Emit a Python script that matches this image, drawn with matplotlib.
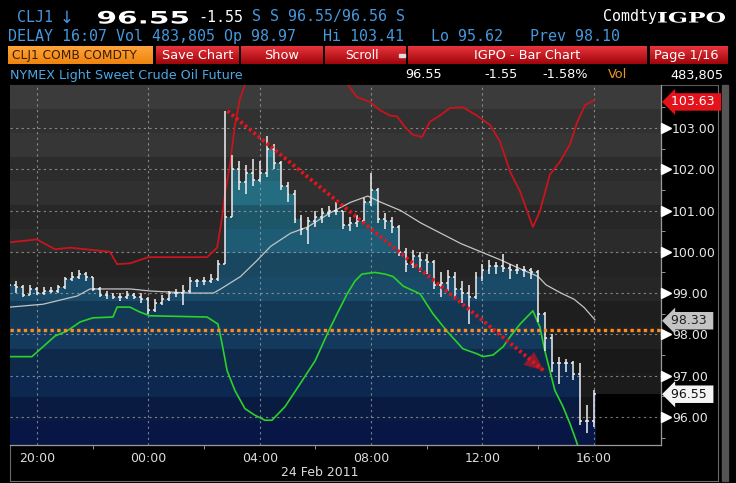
import numpy as np
import matplotlib.pyplot as plt
from matplotlib.colors import to_rgb
from matplotlib.patches import Rectangle, PathPatch
from matplotlib.textpath import TextPath
from matplotlib.font_manager import FontProperties
from matplotlib.transforms import Affine2D

W, H = 736, 483

# 15 minute bars, hours counted from 24 Feb 2011 00:00 (first bar 19:00 the day before)
bar_first = -5.0
bar_step = 0.25
closes = [99.20, 99.15, 98.95, 99.10, 99.00, 99.05, 99.05, 99.15, 99.35, 99.40,
          99.45, 99.40, 99.10, 98.95, 98.95, 98.90, 98.90, 98.95, 98.90, 98.85,
          98.60, 98.75, 98.85, 99.00, 99.00, 99.05, 99.30, 99.30, 99.30, 99.35,
          99.70, 100.85, 102.00, 101.70, 101.90, 101.75, 101.90, 102.50, 102.15, 101.60,
          101.40, 100.80, 100.55, 100.75, 100.85, 100.95, 101.00, 101.00, 100.65, 100.70,
          100.75, 101.20, 101.50, 100.80, 100.75, 100.60, 100.00, 99.70, 99.90, 99.80,
          99.75, 99.20, 99.25, 99.40, 99.10, 99.00, 98.90, 99.40, 99.55, 99.65,
          99.65, 99.60, 99.55, 99.55, 99.55, 99.50, 98.50, 97.90, 97.30, 97.30,
          97.30, 97.05, 95.90, 95.90, 96.55]
highs = [99.35, 99.30, 99.20, 99.20, 99.15, 99.15, 99.15, 99.20, 99.40, 99.50,
         99.55, 99.50, 99.40, 99.15, 99.05, 99.00, 99.00, 99.05, 99.00, 99.00,
         98.90, 98.85, 98.95, 99.05, 99.10, 99.20, 99.40, 99.35, 99.40, 99.45,
         99.80, 103.41, 102.35, 102.20, 102.10, 102.25, 102.20, 102.80, 102.60, 102.20,
         101.70, 101.50, 100.90, 100.85, 101.00, 101.05, 101.10, 101.20, 101.00, 100.85,
         100.90, 101.30, 101.90, 101.55, 100.95, 100.85, 100.65, 100.10, 100.05, 100.00,
         99.95, 99.80, 99.50, 99.55, 99.50, 99.30, 99.20, 99.50, 99.70, 99.80,
         99.75, 99.95, 99.70, 99.70, 99.65, 99.60, 99.55, 98.55, 98.00, 97.45,
         97.40, 97.35, 97.30, 96.30, 96.65]
lows = [99.10, 99.00, 98.90, 98.95, 98.95, 98.95, 99.00, 99.00, 99.10, 99.30,
        99.35, 99.30, 99.05, 98.90, 98.85, 98.85, 98.80, 98.85, 98.85, 98.75,
        98.50, 98.55, 98.70, 98.80, 98.90, 98.70, 99.00, 99.15, 99.20, 99.25,
        99.30, 99.70, 100.85, 101.50, 101.40, 101.60, 101.70, 101.80, 102.00, 101.50,
        101.20, 100.70, 100.40, 100.20, 100.60, 100.70, 100.85, 100.90, 100.55, 100.50,
        100.60, 100.70, 101.10, 100.70, 100.55, 100.45, 99.90, 99.50, 99.60, 99.50,
        99.45, 99.10, 98.90, 99.05, 98.90, 98.75, 98.25, 98.85, 99.30, 99.45,
        99.45, 99.50, 99.35, 99.45, 99.40, 99.35, 98.30, 97.60, 97.10, 96.80,
        97.10, 96.90, 95.80, 95.62, 95.75]

# moving average (grey)
ma_t = [-4.97, -3.78, -2.55, -2.09, -0.65, 0.07, 1.51, 2.34, 2.6, 3.31, 3.92, 4.39,
        5.11, 5.72, 6.55, 7.27, 7.88, 8.35, 9.06, 9.78, 10.5, 11.22, 11.94, 12.66,
        13.38, 14.0, 14.28, 14.82, 15.29, 15.65, 16.04]
ma_v = [98.66, 98.73, 98.93, 99.1, 99.1, 99.05, 99.0, 99.0, 99.1, 99.4, 99.8, 100.13,
        100.45, 100.6, 100.95, 101.2, 101.35, 101.2, 101.0, 100.7, 100.45, 100.2, 100.0, 99.8,
        99.58, 99.4, 99.2, 99.0, 98.85, 98.65, 98.35]

# upper band (red)
ub_t = [-4.97, -4.0, -3.35, -2.81, -1.38, -1.12, -0.66, 0.0, 2.11, 2.47, 2.65, 2.75,
        2.93, 3.11, 3.29, 3.47, 4.0, 5.0, 6.0, 6.8, 7.17, 7.49, 7.96, 8.32, 8.68, 8.93,
        9.22, 9.51, 9.83, 10.11, 10.47, 10.83, 11.3, 11.8, 12.27, 12.63, 12.99, 13.35,
        13.81, 14.06, 14.42, 14.78, 15.14, 15.39, 15.68, 16.0]
ub_v = [100.23, 100.3, 100.06, 100.1, 100.0, 99.7, 99.72, 99.87, 99.87, 100.1, 100.83, 101.4,
        102.1, 103.07, 103.7, 104.04, 104.6, 105.0, 104.9, 104.4, 104.04, 103.75, 103.63, 103.43,
        103.3, 103.28, 103.02, 102.83, 102.78, 103.15, 103.3, 103.48, 103.5, 103.3, 103.07,
        102.67, 101.94, 101.46, 100.6, 100.98, 101.87, 102.18, 102.6, 103.12, 103.55, 103.67]

# lower band (green)
lb_t = [-4.97, -4.18, -3.78, -3.35, -2.92, -2.45, -1.99, -1.27, -1.12, -0.66, -0.3, 0.06,
        2.11, 2.5, 2.65, 2.83, 3.11, 3.47, 3.83, 4.19, 4.44, 4.91, 5.45, 5.99, 6.42, 6.78,
        7.14, 7.42, 7.67, 8.14, 8.5, 8.79, 9.15, 9.76, 10.22, 10.72, 11.3, 11.8, 12.02,
        12.38, 12.74, 12.99, 13.35, 13.81, 14.06, 14.24, 14.42, 14.6, 14.89, 15.14, 15.36, 15.47]
lb_v = [97.46, 97.46, 97.7, 97.96, 98.08, 98.3, 98.4, 98.42, 98.66, 98.66, 98.54, 98.45,
        98.42, 98.25, 97.77, 97.12, 96.64, 96.2, 96.04, 95.92, 95.92, 96.25, 96.8, 97.36, 98.0, 98.5,
        98.98, 99.29, 99.46, 99.5, 99.46, 99.4, 99.17, 98.98, 98.5, 98.08, 97.65, 97.53, 97.46,
        97.5, 97.7, 97.94, 98.25, 98.57, 98.18, 97.6, 97.12, 96.64, 96.25, 95.84, 95.43, 95.2]

prev_close = 98.10
trend_start = (2.84, 103.41)
trend_end = (14.2, 97.12)

x_ticks = [-4, 0, 4, 8, 12, 16]
x_labels = ['20:00', '00:00', '04:00', '08:00', '12:00', '16:00']
x_minor = [-2, 2, 6, 10, 14]
y_ticks = [96, 97, 98, 99, 100, 101, 102, 103]
last_tags = [(103.63, '103.63', '#e3121b', 'white'),
             (98.33, '98.33', '#c4c4c4', '#202020'),
             (96.55, '96.55', '#f4f4f4', '#101010')]

BLUE = '#4598de'

fig = plt.figure(figsize=(W / 100, H / 100), dpi=100, facecolor='black')

# --- header / frame drawn in pixel coordinates ---
hdr = fig.add_axes([0, 0, 1, 1], zorder=0)
hdr.axis('off')


def vgrad(x0, x1, y0, y1, top, bottom):
    g = np.linspace(0, 1, 24)[:, None, None]
    c = np.array(to_rgb(top)) * (1 - g) + np.array(to_rgb(bottom)) * g
    hdr.imshow(c, extent=(x0, x1, y1, y0), aspect='auto', interpolation='bilinear')


def wide_text(s, x0, x1, ybase, cap, family, color):
    # stretch a bold string to fill a pixel box (Bloomberg's wide ticker font)
    tp = TextPath((0, 0), s, size=10, prop=FontProperties(family=family, weight='bold'))
    ext = tp.get_extents()
    sx = (x1 - x0) / ext.width
    sy = cap / 7.3
    tr = Affine2D().translate(-ext.x0, 0).scale(sx, -sy).translate(x0, ybase)
    hdr.add_patch(PathPatch(tr.transform_path(tp), fc=color, ec='none'))


mono = dict(family='DejaVu Sans Mono', fontsize=10.8, va='center')
hdr.text(17, 17, 'CLJ1', color=BLUE, **mono)
hdr.text(60, 17.5, '\u2193', color=BLUE, family='DejaVu Sans', fontsize=12, va='center')
wide_text('96.55', 98, 188, 23.5, 12.5, 'DejaVu Sans', 'white')
hdr.text(198, 17, '-1.55', color='white', **mono)
hdr.text(252, 17, 'S S 96.55/96.56 S', color=BLUE, **mono)
hdr.text(603, 17, 'Comdty', color='white', **mono)
wide_text('IGPO', 658, 725, 22.5, 10.5, 'DejaVu Serif', 'white')
hdr.text(8, 37, 'DELAY 16:07 Vol 483,805 Op 98.97   Hi 103.41   Lo 95.62   Prev 98.10',
         color=BLUE, **mono)

# button row
vgrad(8, 153, 46, 64, '#ffa43a', '#ef8410')
hdr.text(12, 55.5, 'CLJ1 COMB COMDTY', color='#3a1e00', fontsize=8.8, va='center')
buttons = [(156, 239, 'Save Chart'), (241, 323, 'Show'), (325, 406, 'Scroll'),
           (408, 647, 'IGPO - Bar Chart'), (650, 728, 'Page 1/16')]
for bx0, bx1, lab in buttons:
    vgrad(bx0, bx1, 46, 64, '#e8343c', '#a0060c')
    if lab == 'Page 1/16':
        hdr.text(bx0 + 4, 55.5, lab, color='white', fontsize=9.3, va='center')
    elif lab == 'Scroll':
        hdr.text(bx0 + 20, 55.5, lab, color='white', fontsize=8.8, va='center')
    else:
        hdr.text((bx0 + bx1) / 2, 55.5, lab, color='white', fontsize=9.3,
                 ha='center', va='center')
hdr.add_patch(Rectangle((399, 53.5), 6, 3, color='#dddddd'))

hdr.text(10, 75, 'NYMEX Light Sweet Crude Oil Future', color='#48a8e8', fontsize=9.2, va='center')
for xr, s in [(442, '96.55'), (518, '-1.55'), (588, '-1.58%'), (723, '483,805')]:
    hdr.text(xr, 75, s, color='white', fontsize=9.3, ha='right', va='center')
hdr.text(608, 75, 'Vol', color='#e8962a', fontsize=9.3, va='center')

# frame and scroll bar
hdr.plot([10, 718], [84.5, 84.5], color='#5a5a5a', lw=0.8)
hdr.plot([718, 718], [85, 481], color='#6a6a6a', lw=0.8)
hdr.plot([10, 718], [481, 481], color='#6a6a6a', lw=0.8)
hdr.plot([10, 10], [445, 481], color='#6a6a6a', lw=0.8)
hdr.add_patch(Rectangle((722, 85), 6, 396, color='#555555'))
hdr.set_xlim(0, W)
hdr.set_ylim(H, 0)

# --- chart ---
ax = fig.add_axes([10 / W, (H - 445) / H, 651 / W, 360 / H], zorder=1)
xa, xb = -4.966, 18.41
ya, yb = 95.32, 104.04
ax.set_facecolor('black')

nb = 15
k = np.arange(nb) / (nb - 1)
alt = np.where(np.arange(nb) % 2 == 0, 1.0, 0.86)
gray = (0.235 * (1 - k) + 0.085 * k) * alt
bg = np.repeat(gray[:, None], 3, axis=1)[:, None, :]
ax.imshow(bg, extent=(xa, xb, ya, yb), aspect='auto', origin='upper',
          interpolation='nearest', zorder=0)

top = np.array([0.19, 0.56, 0.60])
bot = np.array([0.03, 0.09, 0.27])
blue = (top * (1 - k[:, None]) + bot * k[:, None]) * alt[:, None]
im = ax.imshow(blue[:, None, :], extent=(xa, xb, ya, yb), aspect='auto', origin='upper',
               interpolation='nearest', zorder=1)

t_bars = bar_first + bar_step * np.arange(len(closes))
t_edge = np.append(t_bars, t_bars[-1] + 0.07)
c_edge = np.append(closes, closes[-1])
poly = ax.fill_between(t_edge, c_edge, ya, step='post', facecolor='none', edgecolor='none')
im.set_clip_path(poly.get_paths()[0], ax.transData)
ax.fill_between([t_edge[-1], xb], ya, closes[-1], color='black', lw=0, zorder=1.2)

ax.plot(ub_t, ub_v, color='#c8141c', lw=1.3, zorder=3)
ax.plot(lb_t, lb_v, color='#2ad22a', lw=1.2, zorder=3)
ax.plot(ma_t, ma_v, color='#c4c4c4', lw=0.9, zorder=3)

opens = [closes[0]] + closes[:-1]
bar_col = '#f0f0f0'
ax.vlines(t_bars, lows, highs, color=bar_col, lw=1.1, zorder=4)
ax.hlines(opens, t_bars - 0.07, t_bars, color=bar_col, lw=1.1, zorder=4)
ax.hlines(closes, t_bars, t_bars + 0.07, color=bar_col, lw=1.1, zorder=4)

ax.axhline(prev_close, color='#ff8c1e', lw=2.4, linestyle=(0, (1, 1)), zorder=5)

# dotted trend line with a dotted-looking head
ax.plot([trend_start[0], trend_end[0]], [trend_start[1], trend_end[1]], color='#e4141c',
        lw=2.8, linestyle=(0, (0.7, 0.75)), solid_capstyle='butt', zorder=6)
ax.annotate('', xy=trend_end, xytext=trend_start, zorder=6,
            arrowprops=dict(arrowstyle='-|>,head_length=1.4,head_width=0.6',
                            fc='#e4141c', ec='none', alpha=0.6, lw=0,
                            shrinkA=0, shrinkB=0))

ax.set_xlim(xa, xb)
ax.set_ylim(ya, yb)
ax.set_axisbelow('line')
ax.grid(True, color='#b8b8b8', linestyle=(0, (2, 3)), lw=0.8, alpha=0.65)

ax.set_xticks(x_ticks)
ax.set_xticklabels(x_labels)
ax.set_xticks(x_minor, minor=True)
ax.yaxis.tick_right()
ax.set_yticks(y_ticks)
ax.set_yticklabels(['%.2f' % v for v in y_ticks])
ax.set_yticks(np.arange(95.5, 104, 1.0), minor=True)
ax.tick_params(axis='x', which='major', length=0, pad=5, labelsize=9, labelcolor='#dcdcdc')
ax.tick_params(axis='x', which='minor', length=3, color='#aaaaaa', direction='out')
ax.tick_params(axis='y', which='major', length=0, pad=8, labelsize=9, labelcolor='#e6e6e6')
ax.tick_params(axis='y', which='minor', length=3, color='#aaaaaa', direction='out')
for side in ['top', 'left']:
    ax.spines[side].set_visible(False)
for side in ['bottom', 'right']:
    ax.spines[side].set_color('#9a9a9a')
    ax.spines[side].set_linewidth(0.9)

ytr = ax.get_yaxis_transform()
ax.plot([1.0077] * len(y_ticks), y_ticks, linestyle='none', marker='>', ms=6.5,
        color='white', transform=ytr, clip_on=False, zorder=7)
for val, txt, fc, tc in last_tags:
    ax.text(1.016, val, txt + ' ', transform=ytr, ha='left', va='center', fontsize=9,
            color=tc, clip_on=False, zorder=8,
            bbox=dict(boxstyle='larrow,pad=0.18', fc=fc, ec='none'))

ax.text(6.15, -0.075, '24 Feb 2011', transform=ax.get_xaxis_transform(), ha='center',
        va='center', fontsize=9, color='#dcdcdc')

fig.savefig('out.png', dpi=100, facecolor='black')
